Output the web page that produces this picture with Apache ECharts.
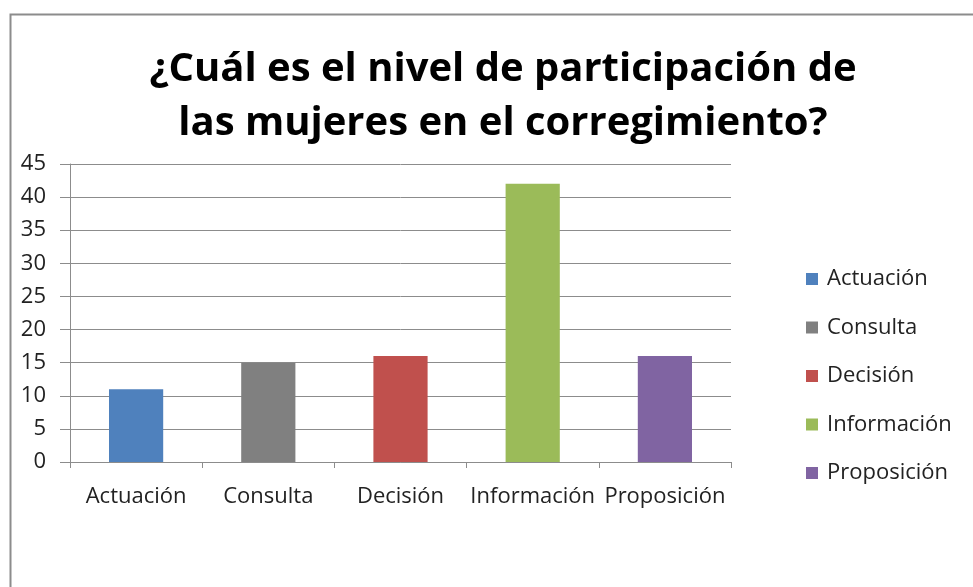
<!DOCTYPE html>
<html>
<head>
<meta charset="utf-8">
<style>
  html, body { margin: 0; padding: 0; background: #fff; }
  #chart { width: 973px; height: 587px; }
</style>
<script src="https://cdn.jsdelivr.net/npm/echarts@6/dist/echarts.min.js"></script>
</head>
<body>
<div id="chart"></div>
<script>
const categories = ['Actuación', 'Consulta', 'Decisión', 'Información', 'Proposición']
const values = [11, 15, 16, 42, 16]
const colors = ['#4F81BD', '#808080', '#C0504D', '#9BBB59', '#8064A2']
const yTicks = [0, 5, 10, 15, 20, 25, 30, 35, 40, 45]

const font = "'Open Sans', 'DejaVu Sans', sans-serif"
const chart = echarts.init(document.getElementById('chart'))

// one series per category so the legend lists every bar
const series = categories.map((name, i) => ({
  name,
  type: 'bar',
  stack: 'all',
  barWidth: '41%',
  data: values.map((v, j) => (j === i ? v : '-')),
  itemStyle: { color: colors[i] },
}))

chart.setOption({
  animation: false,
  textStyle: { fontFamily: font },
  graphic: [{
    type: 'rect',
    shape: { x: 10.5, y: 14.5, width: 1200, height: 1200 },
    style: { fill: 'none', stroke: '#8c8c8c', lineWidth: 2 },
    silent: true,
  }],
  title: {
    text: '¿Cuál es el nivel de participación de\nlas mujeres en el corregimiento?',
    left: 498,
    top: 38,
    textAlign: 'center',
    textStyle: { fontFamily: font, fontSize: 40, fontWeight: 'bold', color: '#000', lineHeight: 54 },
  },
  legend: {
    orient: 'vertical',
    left: 806,
    top: 268,
    padding: 0,
    icon: 'rect',
    itemWidth: 12,
    itemHeight: 12,
    itemGap: 26.5,
    data: categories,
    textStyle: { fontFamily: font, fontSize: 22, color: '#222', padding: [0, 0, 0, 4] },
  },
  grid: { left: 70, top: 164, right: 242, bottom: 125 },
  xAxis: {
    type: 'category',
    data: categories,
    axisLine: { lineStyle: { color: '#8c8c8c' } },
    axisTick: { show: true, length: 6, lineStyle: { color: '#8c8c8c' } },
    axisLabel: { fontFamily: font, fontSize: 22, color: '#222', margin: 24, interval: 0 },
  },
  yAxis: {
    type: 'value',
    min: yTicks[0],
    max: yTicks[yTicks.length - 1],
    interval: 5,
    axisLine: { show: true, lineStyle: { color: '#8c8c8c' } },
    axisTick: { show: true, length: 10, lineStyle: { color: '#8c8c8c' } },
    axisLabel: { fontFamily: font, fontSize: 22, color: '#222', margin: 24 },
    splitLine: { lineStyle: { color: '#8c8c8c' } },
  },
  series,
})
</script>
</body>
</html>
